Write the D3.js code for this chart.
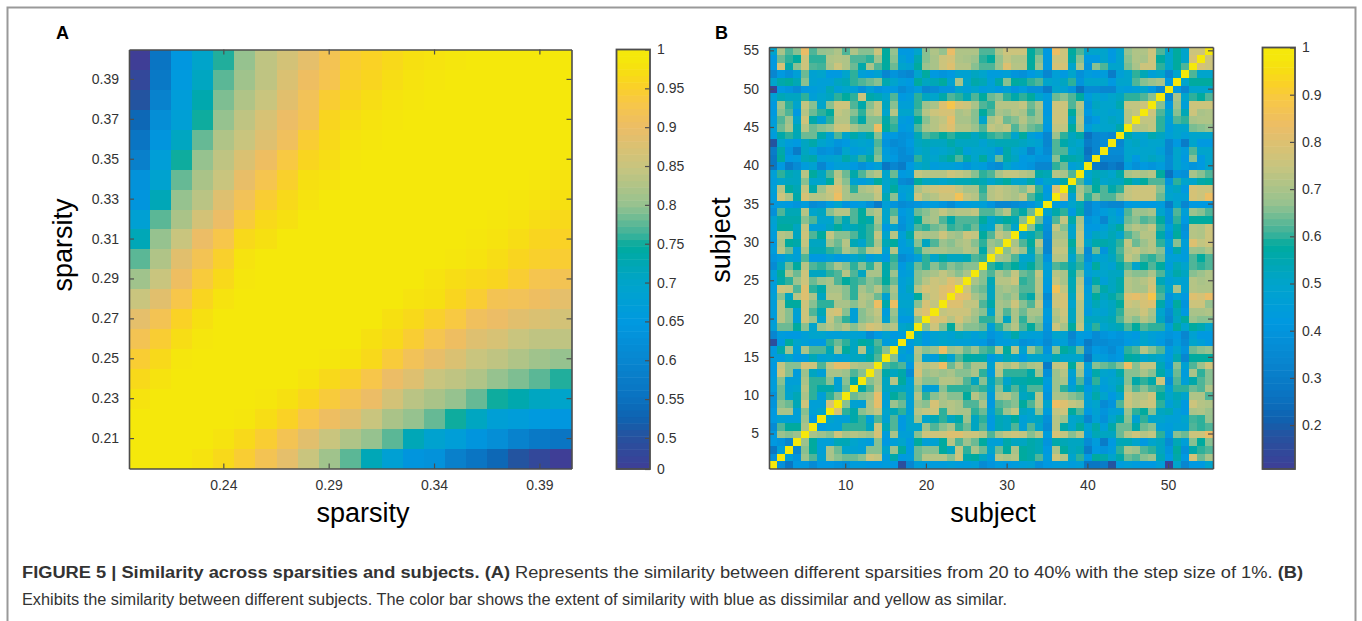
<!DOCTYPE html>
<html>
<head>
<meta charset="utf-8">
<script src="https://cdn.jsdelivr.net/npm/d3@7"></script>
<style>
  html, body { margin: 0; padding: 0; background: #fff; }
  svg { display: block; font-family: "Liberation Sans", Arial, sans-serif; }
</style>
</head>
<body>
<svg id="chart" width="1362" height="621"></svg>
<script>
// panel A, sparsity vs sparsity. matrix is symmetric so only the part left of the
// diagonal is kept, top row first (0.40 down to 0.20)
const sparsities = [.20,.21,.22,.23,.24,.25,.26,.27,.28,.29,.30,.31,.32,.33,.34,.35,.36,.37,.38,.39,.40];
const sparsityRows = [
  [.46,.56,.645,.70,.755,.80,.84,.865,.89,.92,.945,.955,.965,.975,.98,.985,.99,.99,.995,.995,1],
  [.48,.57,.655,.71,.775,.81,.84,.875,.905,.925,.95,.96,.97,.98,.985,.99,.99,.995,.995,1],
  [.505,.59,.665,.73,.79,.825,.85,.885,.915,.945,.96,.97,.98,.985,.99,.99,.995,.995,1],
  [.535,.62,.675,.75,.80,.84,.87,.90,.92,.96,.97,.98,.985,.99,.99,.995,.995,1],
  [.56,.64,.71,.78,.825,.85,.88,.91,.945,.965,.98,.985,.99,.99,.995,.995,1],
  [.585,.67,.75,.80,.84,.875,.905,.935,.96,.97,.985,.99,.99,.995,.995,1],
  [.63,.69,.78,.82,.85,.895,.925,.95,.975,.98,.99,.99,.995,.995,1],
  [.64,.72,.80,.835,.88,.915,.945,.965,.98,.99,.99,.995,.995,1],
  [.68,.775,.82,.865,.90,.94,.965,.975,.99,.995,.995,1,1],
  [.72,.80,.85,.90,.93,.965,.975,.99,.995,.995,1,1],
  [.775,.825,.885,.92,.95,.98,.99,.995,.995,1,1],
  [.81,.85,.905,.94,.965,.985,.99,.995,1,1],
  [.85,.885,.93,.96,.98,.99,.995,1,1],
  [.89,.92,.955,.975,.99,.995,1,1],
  [.92,.945,.97,.985,.995,1,1],
  [.945,.965,.985,.995,1,1],
  [.965,.98,.99,1,1],
  [.98,.99,1,1],
  [.995,1,1],
  [1,1],
  [1]
];
const sparsityXTicks = [.24,.29,.34,.39];
const sparsityYTicks = [.21,.23,.25,.27,.29,.31,.33,.35,.37,.39];
const barATicks = [.46,.5,.55,.6,.65,.7,.75,.8,.85,.9,.95,1];
const barALabels = ["0","0.5","0.55","0.6","0.65","0.7","0.75","0.8","0.85","0.9","0.95","1"];

// panel B, subject vs subject in percent, same idea, subject 55 first
const subjects = d3.range(1, 56);
const subjectRows = [
  [50,70,62,66,83,62,67,68,71,62,71,66,66,76,58,67,42,42,50,66,71,67,83,71,71,71,62,62,71,76,76,76,58,62,42,84,76,58,62,50,50,50,42,50,67,71,71,76,62,50,58,50,76,76,100],
  [42,64,60,58,76,60,60,71,72,71,62,62,60,68,58,66,46,42,55,66,70,76,78,71,70,68,60,58,67,74,71,71,58,66,42,76,76,56,66,42,42,50,42,50,66,71,70,76,58,50,58,50,78,100],
  [42,78,56,66,76,62,61,70,76,71,64,56,70,62,58,64,50,48,58,68,70,76,80,72,72,66,62,62,68,80,72,72,58,68,42,78,78,50,70,40,66,62,50,50,65,70,76,76,60,50,58,62,100],
  [34,42,38,46,64,48,50,42,42,50,60,46,44,48,34,40,36,34,50,58,42,40,42,48,48,52,50,44,44,46,40,38,42,46,34,46,42,50,38,44,42,44,30,46,50,60,54,46,50,34,50,100],
  [50,56,58,54,66,48,46,46,52,54,60,62,64,66,55,50,44,42,58,52,54,58,48,70,50,56,54,46,56,66,58,56,60,62,50,48,52,60,40,50,50,50,42,50,50,62,66,68,70,42,100],
  [12,42,40,36,42,44,46,54,46,50,46,38,46,40,42,42,36,40,44,34,36,40,40,50,46,50,44,46,42,46,40,44,38,38,30,50,48,40,26,36,36,34,34,46,44,46,50,42,34,100],
  [46,54,52,52,60,46,50,52,60,58,60,76,56,54,50,62,42,44,60,52,50,56,62,60,54,62,58,64,66,60,56,60,58,50,44,64,66,62,58,44,50,46,50,52,60,60,62,66,100],
  [42,68,60,50,74,66,50,66,76,76,62,56,66,74,52,66,46,46,60,68,70,80,88,78,76,70,62,60,72,72,72,74,64,70,42,76,76,62,72,40,52,50,50,55,74,74,76,100],
  [42,66,62,42,72,64,60,58,74,72,66,60,70,74,50,72,50,50,62,72,76,78,78,70,72,66,58,62,70,68,72,70,62,68,42,76,76,58,70,42,50,50,48,50,72,74,100],
  [44,62,68,50,76,56,48,60,72,72,62,56,66,66,56,62,44,42,58,66,72,74,82,70,70,66,50,70,74,64,66,72,66,68,44,76,76,52,72,38,42,50,52,50,72,100],
  [46,64,70,54,72,64,66,68,76,76,70,66,66,84,58,60,42,44,62,70,72,76,80,72,72,68,62,74,72,74,62,68,64,62,42,74,74,58,70,44,50,50,50,56,100],
  [44,56,60,54,64,64,56,48,62,50,56,52,56,66,42,42,38,40,54,62,60,58,60,56,56,52,56,60,62,60,50,58,46,42,34,68,60,52,56,26,34,36,34,100],
  [18,50,44,42,52,56,50,46,40,42,48,50,48,62,40,36,38,42,52,54,52,52,56,52,52,52,48,52,54,54,54,52,50,48,34,62,56,52,50,30,34,36,100],
  [30,56,40,30,52,46,38,40,36,50,44,46,50,64,44,40,36,40,50,52,48,50,52,56,46,50,50,48,40,56,50,46,34,44,36,62,62,50,52,26,34,100],
  [28,58,42,44,54,56,46,48,50,56,52,60,56,66,46,42,36,36,60,52,50,54,58,62,56,50,58,48,64,56,52,42,44,40,40,66,58,56,54,30,100],
  [28,42,30,36,44,48,34,42,46,46,42,38,42,46,28,34,30,42,50,52,44,46,46,44,40,46,44,38,36,50,44,42,40,34,34,60,64,46,50,100],
  [46,60,54,52,72,58,52,62,72,64,56,62,68,72,50,64,42,44,74,72,72,72,76,74,72,66,60,62,70,74,74,72,70,56,54,72,70,62,100],
  [44,50,52,52,66,50,50,58,74,66,48,44,48,58,50,54,36,34,58,52,52,50,52,54,54,56,54,50,54,58,50,50,56,42,50,48,56,100],
  [46,72,58,54,74,56,68,76,80,70,60,70,72,76,50,58,46,48,70,74,76,78,78,74,70,70,60,72,74,72,70,66,74,60,42,80,100],
  [44,76,70,56,78,72,72,74,84,70,68,68,68,74,54,66,44,50,76,70,72,76,76,86,74,72,62,72,74,72,70,74,62,56,44,100],
  [42,44,42,40,44,36,38,44,50,40,42,44,38,30,46,40,36,38,40,42,44,40,36,42,44,46,46,40,34,34,36,38,40,48,100],
  [38,62,54,54,72,50,52,66,72,72,62,58,68,72,50,62,42,46,64,66,70,74,70,72,72,74,62,62,66,72,60,56,64,100],
  [48,56,56,56,66,62,50,50,62,54,62,58,56,70,50,68,40,46,58,68,70,62,56,62,62,62,58,50,54,58,54,66,100],
  [46,58,58,52,74,46,46,52,58,52,54,56,60,66,42,48,38,48,62,60,64,66,60,62,60,64,52,50,68,62,50,100],
  [44,72,70,52,76,62,58,74,66,66,62,56,60,74,50,72,46,56,72,70,70,76,70,68,76,74,58,62,74,70,100],
  [42,70,58,56,74,52,52,68,64,72,54,50,60,70,54,58,44,50,66,52,62,68,66,70,72,66,60,68,66,100],
  [44,72,64,46,70,54,54,60,62,70,66,62,72,74,48,72,44,44,60,68,70,70,68,68,72,70,56,70,100],
  [40,44,50,46,62,42,42,46,42,44,50,52,44,48,42,60,36,40,46,60,50,56,52,52,54,62,60,100],
  [36,52,64,58,72,62,60,64,70,66,60,66,60,70,56,62,42,50,64,60,66,62,66,64,66,66,100],
  [46,58,70,64,76,52,52,60,62,72,62,52,70,70,56,68,44,46,66,68,70,74,70,66,70,100],
  [44,56,60,68,76,64,68,70,62,58,60,62,66,64,58,64,46,50,66,72,76,74,80,76,100],
  [44,76,74,62,80,60,56,70,70,66,60,70,66,72,62,70,46,52,72,78,76,80,82,100],
  [46,66,52,72,80,70,52,72,72,66,60,72,70,64,48,68,48,48,58,72,76,80,100],
  [44,72,58,58,76,66,60,60,70,70,66,72,68,84,56,84,50,50,66,78,74,100],
  [44,72,66,48,76,62,54,76,78,66,46,66,70,74,44,68,46,48,76,80,100],
  [44,72,66,46,76,68,50,74,66,60,46,66,68,72,48,66,42,42,66,100],
  [46,64,64,58,66,50,68,72,68,72,66,72,78,76,70,72,50,52,100],
  [34,44,42,42,46,50,50,46,46,48,48,46,36,42,48,42,44,100],
  [16,42,58,50,46,42,42,60,64,60,52,58,56,62,44,48,100],
  [42,56,68,46,70,62,62,54,68,58,52,72,52,60,66,100],
  [44,44,50,42,44,54,48,50,46,48,52,52,56,62,100],
  [42,74,66,66,78,76,62,74,82,82,72,70,70,100],
  [42,76,66,44,68,52,46,70,70,68,62,66,100],
  [44,66,46,46,70,60,60,66,46,66,56,100],
  [44,64,48,50,72,60,56,56,48,64,100],
  [38,64,50,54,70,60,46,60,66,100],
  [40,66,64,54,76,46,46,78,100],
  [42,70,70,46,66,46,50,100],
  [42,48,46,46,68,42,100],
  [36,62,58,58,70,100],
  [42,68,66,68,100],
  [42,40,34,100],
  [28,46,100],
  [38,100],
  [100]
];
const subjectXTicks = [10,20,30,40,50];
const subjectYTicks = [5,10,15,20,25,30,35,40,45,50,55];
const barBTicks = [.2,.3,.4,.5,.6,.7,.8,.9,1];

// colormap stops, position along the bar -> colour
const mapStops = [0,.08,.12,.17,.26,.35,.44,.53,.56,.63,.72,.815,.87,.92,.95,.98,1];
const mapColors = ["#3f3e96","#25539f","#0f62b0","#0a72c0","#0886d0","#0099e0","#00a4cc","#00aa9f",
  "#3db29a","#96c28f","#c8c57f","#ecbd66","#f7c64a","#fad322","#f6df12","#f5e80b","#f5e80b"];
const colormap = d3.scaleLinear().domain(mapStops).range(mapColors);

const svg = d3.select("#chart");
const grey = "#4d4d4d";
const tickFont = "14px";

// journal frame
svg.append("path").attr("d", "M7.5,621V7.5H1355.5V621").attr("fill", "none").attr("stroke", "#999").attr("stroke-width", 2);

// expands a kept triangle to a full list of cells
function cellsFrom(rows, keys) {
  const n = keys.length, cells = [];
  keys.forEach(function (yKey, r) {
    keys.forEach(function (xKey, c) {
      const value = c <= r ? rows[n - 1 - r][c] : rows[n - 1 - c][r];
      cells.push({x: xKey, y: yKey, value: value});
    });
  });
  return cells;
}

function heatmap(o) {
  const xScale = d3.scaleBand().domain(o.keys).range([o.left, o.right]);
  const yScale = d3.scaleBand().domain(o.keys).range([o.bottom, o.top]);
  const tScale = d3.scaleLinear().domain([o.min, o.max]).range([0, 1]);
  const g = svg.append("g");
  g.selectAll("rect").data(cellsFrom(o.rows, o.keys)).enter().append("rect")
    .attr("x", d => xScale(d.x))
    .attr("y", d => yScale(d.y))
    .attr("width", xScale.bandwidth() + .4)
    .attr("height", yScale.bandwidth() + .4)
    .attr("shape-rendering", "crispEdges")
    .attr("fill", d => colormap(tScale(d.value)));

  const fmt = o.tickFormat;
  const frame = function (sel) {
    sel.selectAll(".domain").attr("stroke", grey).attr("stroke-width", 1.6);
    sel.selectAll(".tick line").attr("stroke", grey).attr("stroke-width", 1.2);
    sel.selectAll("text").attr("fill", "#333").style("font-size", tickFont)
      .style("font-family", '"Liberation Sans", Arial, sans-serif');
  };
  svg.append("g").attr("transform", "translate(0," + o.bottom + ")")
    .call(d3.axisBottom(xScale).tickValues(o.xTicks).tickSizeInner(-5).tickSizeOuter(0).tickPadding(12).tickFormat(fmt))
    .call(frame);
  svg.append("g").attr("transform", "translate(" + o.left + ",0)")
    .call(d3.axisLeft(yScale).tickValues(o.yTicks).tickSizeInner(-5).tickSizeOuter(0).tickPadding(10).tickFormat(fmt))
    .call(frame);
  svg.append("g").attr("transform", "translate(0," + o.top + ")")
    .call(d3.axisTop(xScale).tickValues(o.xTicks).tickSizeInner(-5).tickSizeOuter(0).tickFormat(""))
    .call(frame);
  svg.append("g").attr("transform", "translate(" + o.right + ",0)")
    .call(d3.axisRight(yScale).tickValues(o.yTicks).tickSizeInner(-5).tickSizeOuter(0).tickFormat(""))
    .call(frame);

  svg.append("text").attr("x", o.labelX).attr("y", o.bottom + 53)
    .attr("text-anchor", "middle").style("font-size", "27px").text(o.label);
  svg.append("text").attr("transform", "translate(" + o.yLabelX + "," + o.yLabelY + ") rotate(-90)")
    .attr("text-anchor", "middle").style("font-size", "27px").text(o.label);
}

function colorbar(o) {
  const y = d3.scaleLinear().domain([o.min, 1]).range([o.bottom, o.top]);
  const steps = d3.range(64);
  const h = (o.bottom - o.top) / 64;
  svg.append("g").selectAll("rect").data(steps).enter().append("rect")
    .attr("x", o.left)
    .attr("y", d => o.bottom - (d + 1) * h)
    .attr("width", o.right - o.left)
    .attr("height", h + .5)
    .attr("fill", d => colormap((d + .5) / 64));
  const axis = svg.append("g").attr("transform", "translate(" + o.right + ",0)")
    .call(d3.axisRight(y).tickValues(o.ticks).tickSizeInner(-5).tickSizeOuter(0).tickPadding(7)
      .tickFormat((d, i) => o.labels[i]));
  axis.selectAll(".domain").remove();
  axis.selectAll(".tick line").attr("stroke", grey).attr("stroke-width", 1.2);
  axis.selectAll("text").attr("fill", "#333").style("font-size", tickFont)
    .style("font-family", '"Liberation Sans", Arial, sans-serif');
  svg.append("rect").attr("x", o.left).attr("y", o.top)
    .attr("width", o.right - o.left).attr("height", o.bottom - o.top)
    .attr("fill", "none").attr("stroke", grey).attr("stroke-width", 1.8);
}

heatmap({keys: sparsities, rows: sparsityRows, min: .46, max: 1, left: 129, right: 571.5, top: 49.5, bottom: 468.5,
  xTicks: sparsityXTicks, yTicks: sparsityYTicks, tickFormat: d3.format(".2f"), label: "sparsity",
  labelX: 363, yLabelX: 72, yLabelY: 245});
colorbar({left: 616.5, right: 650, top: 49.5, bottom: 469, min: .46, ticks: barATicks, labels: barALabels});

heatmap({keys: subjects, rows: subjectRows, min: 10.7, max: 100, left: 769, right: 1213, top: 47, bottom: 468.5,
  xTicks: subjectXTicks, yTicks: subjectYTicks, tickFormat: d3.format("d"), label: "subject",
  labelX: 993, yLabelX: 730, yLabelY: 240});
colorbar({left: 1262.5, right: 1295, top: 47.5, bottom: 469, min: .107, ticks: barBTicks,
  labels: barBTicks.map(d => d === 1 ? "1" : d.toFixed(1))});

svg.append("text").attr("x", 56).attr("y", 39).style("font-size", "18px").style("font-weight", "bold").text("A");
svg.append("text").attr("x", 715).attr("y", 39).style("font-size", "18px").style("font-weight", "bold").text("B");

// caption
const line1 = svg.append("text").attr("x", 22).attr("y", 578).attr("fill", "#333").style("font-size", "16px")
  .attr("textLength", 1281).attr("lengthAdjust", "spacingAndGlyphs");
line1.append("tspan").style("font-weight", "bold").text("FIGURE 5 | Similarity across sparsities and subjects. (A)");
line1.append("tspan").text(" Represents the similarity between different sparsities from 20 to 40% with the step size of 1%. ");
line1.append("tspan").style("font-weight", "bold").text("(B)");
svg.append("text").attr("x", 22).attr("y", 605).attr("fill", "#333").style("font-size", "16px")
  .attr("textLength", 985).attr("lengthAdjust", "spacingAndGlyphs")
  .text("Exhibits the similarity between different subjects. The color bar shows the extent of similarity with blue as dissimilar and yellow as similar.");
</script>
</body>
</html>
